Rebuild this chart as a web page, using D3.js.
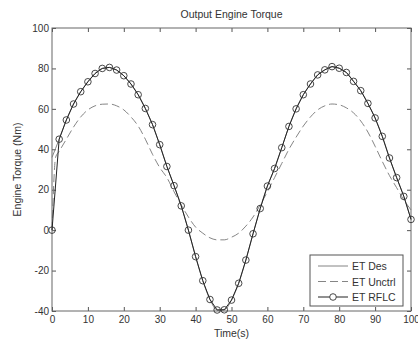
<!DOCTYPE html>
<html>
<head>
<meta charset="utf-8">
<script src="https://cdn.jsdelivr.net/npm/d3@7"></script>
<style>
  body { margin: 0; background: #fff; }
  text { font-family: "Liberation Sans", Arial, sans-serif; fill: #333; }
</style>
</head>
<body>
<figure id="torque" style="margin:0"></figure>
<script>
// time samples (s) where the RFLC markers sit
const timeVals = [0, 2, 4, 6, 8, 10, 12, 14, 16, 18, 20, 22, 24, 26, 28, 30, 32, 34, 36, 38, 40,
  42, 44, 46, 48, 50, 52, 54, 56, 58, 60, 62, 64, 66, 68, 70, 72, 74, 76, 78, 80,
  82, 84, 86, 88, 90, 92, 94, 96, 98, 100];
// ET RFLC (Nm)
const rflcVals = [0, 45, 54.5, 62.4, 68.5, 73.4, 77.5, 80, 80.5, 79.2, 76.4, 72.3, 67, 60.2, 52.2, 42.3, 31.5, 22, 12, 0, -13.1,
  -25, -34.3, -39.5, -39.4, -34.6, -26.3, -14.8, -1.8, 10.7, 21.8, 30.5, 40.8, 51.3, 60, 67, 72.3, 76.8, 79.3, 80.9, 80.1,
  78, 73.6, 69, 62.7, 55.5, 46.4, 35.7, 26, 16.7, 5.3];
// ET Des (Nm) - same samples, starts at ~36
const desVals = [36, 45, 54.5, 62.4, 68.5, 73.4, 77.5, 80, 80.5, 79.2, 76.4, 72.3, 67, 60.2, 52.2, 42.3, 31.5, 22, 12, 0, -13.1,
  -25, -34.3, -39.5, -39.4, -34.6, -26.3, -14.8, -1.8, 10.7, 21.8, 30.5, 40.8, 51.3, 60, 67, 72.3, 76.8, 79.3, 80.9, 80.1,
  78, 73.6, 69, 62.7, 55.5, 46.4, 35.7, 26, 16.7, 5.3];
// ET Unctrl (Nm)
const unctrlTime = [0, 1, 2, 4, 6, 8, 10, 12, 14, 16, 18, 20, 22, 24, 26, 28, 30, 32, 34, 36, 38, 40,
  42, 44, 46, 48, 50, 52, 54, 56, 58, 60, 62, 64, 66, 68, 70, 72, 74, 76, 78, 80,
  82, 84, 86, 88, 90, 92, 94, 96, 98, 100];
const unctrlVals = [0, 36, 39, 45, 51, 56, 59.5, 61.5, 62.3, 62.4, 61.5, 59.5, 56, 51.5, 45, 37.5, 31, 26, 19, 12.5, 6.5, 1.5,
  -1.5, -3.8, -4.8, -4.8, -3.5, -1.5, 2, 6.5, 12.5, 19, 26, 33, 40, 46, 51.5, 56, 59.5, 61.5, 62.4, 62,
  60.5, 58, 54, 48.5, 41.5, 34, 27, 21, 15, 10];

const xTicks = [0, 10, 20, 30, 40, 50, 60, 70, 80, 90, 100];
const yTicks = [-40, -20, 0, 20, 40, 60, 80, 100];
const legendNames = ["ET Des", "ET Unctrl", "ET RFLC"];

const W = 418, H = 343;
const margin = { top: 28, right: 7, bottom: 32, left: 52 };
const width = W - margin.left - margin.right;
const height = H - margin.top - margin.bottom;

const svg = d3.select("figure#torque")
  .append("svg")
  .attr("width", W)
  .attr("height", H)
  .append("g")
  .attr("transform", "translate(" + margin.left + "," + margin.top + ")");

const x = d3.scaleLinear().domain([0, 100]).range([0, width]);
const y = d3.scaleLinear().domain([-40, 100]).range([height, 0]);
const plain = d => String(d);  // hyphen minus, like the original

// Axes (ticks point inward, MATLAB style)
const axStyle = g => {
  g.select(".domain").remove();
  g.selectAll("line").attr("stroke", "#555");
  g.selectAll("text").attr("font-size", 10).attr("fill", "#333");
};
svg.append("g")
  .attr("transform", "translate(0," + height + ")")
  .call(d3.axisBottom(x).tickValues(xTicks).tickFormat(plain).tickSizeInner(-4).tickSizeOuter(0).tickPadding(5))
  .call(axStyle);
svg.append("g")
  .call(d3.axisTop(x).tickValues(xTicks).tickSizeInner(-4).tickSizeOuter(0).tickFormat(""))
  .call(axStyle);
svg.append("g")
  .call(d3.axisLeft(y).tickValues(yTicks).tickFormat(plain).tickSizeInner(-4).tickSizeOuter(0).tickPadding(3))
  .call(axStyle);
svg.append("g")
  .attr("transform", "translate(" + width + ",0)")
  .call(d3.axisRight(y).tickValues(yTicks).tickSizeInner(-4).tickSizeOuter(0).tickFormat(""))
  .call(axStyle);
svg.append("rect")
  .attr("width", width).attr("height", height)
  .attr("fill", "none").attr("stroke", "#666");

// Lines
const desData = timeVals.map((t, i) => ({ t: t, v: desVals[i] }));
const rflcData = timeVals.map((t, i) => ({ t: t, v: rflcVals[i] }));
const unctrlData = unctrlTime.map((t, i) => ({ t: t, v: unctrlVals[i] }));

const smooth = d3.line().x(d => x(d.t)).y(d => y(d.v)).curve(d3.curveMonotoneX);
const straight = d3.line().x(d => x(d.t)).y(d => y(d.v));

svg.append("path").datum(desData)
  .attr("d", smooth).attr("fill", "none").attr("stroke", "#777").attr("stroke-width", 0.9);
svg.append("path").datum(unctrlData)
  .attr("d", smooth).attr("fill", "none").attr("stroke", "#777").attr("stroke-width", 0.9)
  .attr("stroke-dasharray", "8,4");
svg.append("path").datum(rflcData)
  .attr("d", straight).attr("fill", "none").attr("stroke", "#222").attr("stroke-width", 1);
svg.append("g").selectAll("circle")
  .data(rflcData)
  .enter()
  .append("circle")
  .attr("cx", d => x(d.t))
  .attr("cy", d => y(d.v))
  .attr("r", 3.3)
  .attr("fill", "none")
  .attr("stroke", "#333")
  .attr("stroke-width", 0.9);

// Title and axis labels
svg.append("text")
  .attr("x", width / 2).attr("y", -10)
  .attr("text-anchor", "middle").attr("font-size", 10.5)
  .text("Output Engine Torque");
svg.append("text")
  .attr("x", width / 2).attr("y", height + 26)
  .attr("text-anchor", "middle").attr("font-size", 10.5)
  .text("Time(s)");
svg.append("text")
  .attr("transform", "translate(-31," + height / 2 + ") rotate(-90)")
  .attr("text-anchor", "middle").attr("font-size", 10.5)
  .text("Engine Torque (Nm)");

// Legend
const leg = svg.append("g").attr("transform", "translate(" + (width - 101) + "," + (height - 56) + ")");
leg.append("rect")
  .attr("width", 93).attr("height", 51)
  .attr("fill", "#fff").attr("stroke", "#555");
legendNames.forEach((name, i) => {
  const ly = 11 + i * 15.5;
  const ln = leg.append("line")
    .attr("x1", 8).attr("x2", 38).attr("y1", ly).attr("y2", ly)
    .attr("stroke", i === 2 ? "#222" : "#777")
    .attr("stroke-width", i === 2 ? 1 : 0.9);
  if (i === 1) ln.attr("stroke-dasharray", "8,4");
  if (i === 2) {
    leg.append("circle").attr("cx", 23).attr("cy", ly).attr("r", 3.3)
      .attr("fill", "#fff").attr("stroke", "#333").attr("stroke-width", 0.9);
  }
  leg.append("text")
    .attr("x", 42).attr("y", ly + 4)
    .attr("font-size", 10.5)
    .text(name);
});
</script>
</body>
</html>
